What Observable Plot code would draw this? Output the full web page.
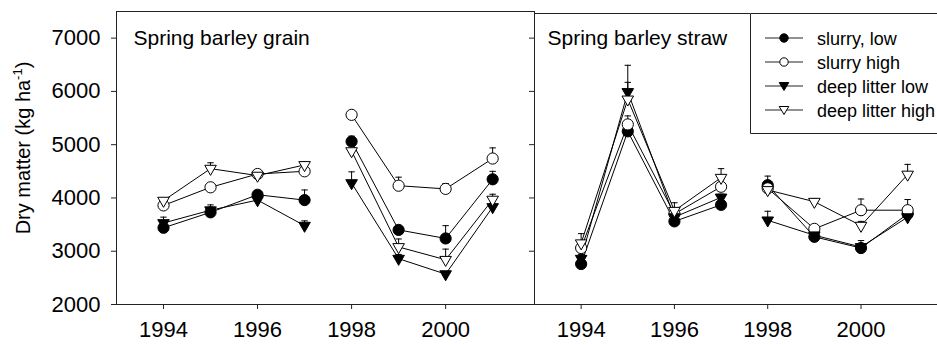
<!DOCTYPE html>
<html><head><meta charset="utf-8">
<script src="https://cdn.jsdelivr.net/npm/d3@7"></script>
<script src="https://cdn.jsdelivr.net/npm/@observablehq/plot@0.6"></script>
<style>
body{margin:0;background:#fff;}
#chart{position:relative;width:937px;height:345px;overflow:hidden;font-family:"Liberation Sans",Arial,sans-serif;}
#chart svg{position:absolute;top:0;}
</style></head><body><div id="chart"></div>
<script>
const years = [1994, 1995, 1996, 1997, 1998, 1999, 2000, 2001];
const seriesNames = ["slurry, low", "slurry high", "deep litter low", "deep litter high"];
const panelTitles = ["Spring barley grain", "Spring barley straw"];
const yTicks = [2000, 3000, 4000, 5000, 6000, 7000];
const xTicks = [1994, 1996, 1998, 2000];
const yLabelMain = "Dry matter (kg ha";
const yLabelSup = "-1";
const yLabelEnd = ")";

// Spring barley grain
const grainSlurryLow      = [3440, 3730, 4060, 3960, 5060, 3400, 3240, 4350];
const grainSlurryLowErr   = [60, 60, 60, 190, 100, 60, 240, 150];
const grainSlurryHigh     = [3860, 4200, 4450, 4500, 5560, 4230, 4170, 4740];
const grainSlurryHighErr  = [40, 40, 60, 60, 0, 160, 100, 200];
const grainDeepLow        = [3530, 3770, 3960, 3480, 4280, 2860, 2570, 3830];
const grainDeepLowErr     = [110, 100, 50, 90, 210, 80, 50, 60];
const grainDeepHigh       = [3950, 4550, 4420, 4620, 4880, 3080, 2840, 3970];
const grainDeepHighErr    = [40, 110, 60, 60, 40, 150, 200, 100];

// Spring barley straw
const strawSlurryLow      = [2760, 5250, 3560, 3870, 4240, 3270, 3060, 3700];
const strawSlurryLowErr   = [50, 60, 50, 40, 170, 50, 140, 60];
const strawSlurryHigh     = [3060, 5380, 3700, 4210, 4180, 3420, 3770, 3770];
const strawSlurryHighErr  = [60, 160, 60, 130, 60, 50, 210, 200];
const strawDeepLow        = [2860, 5990, 3640, 4010, 3580, 3300, 3080, 3640];
const strawDeepLowErr     = [80, 500, 60, 60, 170, 50, 60, 60];
const strawDeepHigh       = [3150, 5850, 3760, 4380, 4150, 3930, 3480, 4440];
const strawDeepHighErr    = [180, 320, 150, 170, 50, 60, 80, 190];

function rows(vals, errs) {
  return seriesNames.flatMap((s, i) => years.map((yr, j) => ({
    series: s, year: yr, value: vals[i][j], err: errs[i][j],
    seg: s + (yr < 1998 ? "-a" : "-b")
  })));
}
const grainData = rows([grainSlurryLow, grainSlurryHigh, grainDeepLow, grainDeepHigh],
                       [grainSlurryLowErr, grainSlurryHighErr, grainDeepLowErr, grainDeepHighErr]);
const strawData = rows([strawSlurryLow, strawSlurryHigh, strawDeepLow, strawDeepHigh],
                       [strawSlurryLowErr, strawSlurryHighErr, strawDeepLowErr, strawDeepHighErr]);

const styles = {
  "slurry, low":      {symbol: "circle",   fill: "black", r: 5.6, rotate: 0},
  "slurry high":      {symbol: "circle",   fill: "white", r: 5.6, rotate: 0},
  "deep litter low":  {symbol: "triangle", fill: "black", r: 4.3, rotate: 180},
  "deep litter high": {symbol: "triangle", fill: "white", r: 4.3, rotate: 180}
};
const capSymbol = {draw(ctx, size) { const w = Math.sqrt(size / Math.PI); ctx.moveTo(-w, 0); ctx.lineTo(w, 0); }};
const FONT = '"Liberation Sans", Arial, sans-serif';

function dataMarks(data) {
  const withErr = data.filter(d => d.err > 0);
  const marks = [
    Plot.line(data, {x: "year", y: "value", z: "seg", stroke: "black", strokeWidth: 1}),
    Plot.ruleX(withErr, {x: "year", y1: "value", y2: d => d.value + d.err, stroke: "black", strokeWidth: 1}),
    Plot.dot(withErr, {x: "year", y: d => d.value + d.err, symbol: capSymbol, r: 3.2, stroke: "black", strokeWidth: 1, fill: "none"})
  ];
  for (const s of seriesNames) {
    const st = styles[s];
    marks.push(Plot.dot(data.filter(d => d.series === s), {
      x: "year", y: "value", symbol: st.symbol, r: st.r, rotate: st.rotate,
      fill: st.fill, stroke: "black", strokeWidth: 1
    }));
  }
  return marks;
}

const chart = document.getElementById("chart");
const H = 345;
const leftDomainX = [1993, 2001.89];
const rightDomainX = [1993, 2001.64];
const leftDomainY = [2000, 7500];
const rightDomainY = [2000, 7462];

const left = Plot.plot({
  width: 535, height: H, marginLeft: 116, marginRight: 1, marginTop: 11, marginBottom: 41,
  style: {background: "transparent", fontSize: "22px", fontFamily: FONT, color: "#000"},
  x: {domain: leftDomainX},
  y: {domain: leftDomainY},
  marks: [
    Plot.frame({stroke: "#222", strokeWidth: 1}),
    Plot.axisY({ticks: yTicks, tickFormat: d => String(d), tickSize: 5, tickPadding: 11, label: null, stroke: "#222", fontSize: 22}),
    Plot.axisX({ticks: xTicks, tickFormat: d => String(d), tickSize: 5, tickPadding: 12, label: null, stroke: "#222", fontSize: 22}),
    Plot.text([panelTitles[0]], {frameAnchor: "top-left", dx: 17, dy: 19, lineAnchor: "top", textAnchor: "start", fontSize: 21, fill: "black"}),
    ...dataMarks(grainData)
  ]
});
left.style.left = "0px";
chart.appendChild(left);

// y axis label with superscript
const lab = d3.select(left).append("text")
  .attr("transform", "translate(30,148) rotate(-90)")
  .attr("text-anchor", "middle")
  .attr("font-size", 20).attr("font-family", FONT).attr("fill", "black");
lab.append("tspan").text(yLabelMain);
lab.append("tspan").attr("font-size", 13).attr("dy", -8).text(yLabelSup);
lab.append("tspan").attr("dy", 8).text(yLabelEnd);

const right = Plot.plot({
  width: 413, height: H, marginLeft: 10, marginRight: 0, marginTop: 13, marginBottom: 41,
  style: {background: "transparent", fontSize: "22px", fontFamily: FONT, color: "#000"},
  x: {domain: rightDomainX},
  y: {domain: rightDomainY},
  marks: [
    Plot.ruleX([rightDomainX[0]], {stroke: "#222"}),
    Plot.ruleY([rightDomainY[0]], {stroke: "#222"}),
    Plot.ruleY([rightDomainY[1]], {stroke: "#222"}),
    Plot.axisY({ticks: yTicks, tickSize: 5, tickFormat: () => "", label: null, stroke: "#222"}),
    Plot.axisX({ticks: xTicks, tickFormat: d => String(d), tickSize: 5, tickPadding: 12, label: null, stroke: "#222", fontSize: 22}),
    Plot.text([panelTitles[1]], {frameAnchor: "top-left", dx: 13, dy: 17, lineAnchor: "top", textAnchor: "start", fontSize: 21, fill: "black"}),
    ...dataMarks(strawData)
  ]
});
right.style.left = "524px";
chart.appendChild(right);

// legend
const lg = d3.select(chart).append("svg").attr("width", 190).attr("height", 122)
  .style("left", "750px").style("top", "13px");
lg.append("rect").attr("x", 0).attr("y", 0).attr("width", 190).attr("height", 122).attr("fill", "white");
lg.append("path").attr("d", "M200,0.5H0.5V120.5H200").attr("fill", "none").attr("stroke", "#222");
seriesNames.forEach((s, i) => {
  const st = styles[s];
  const y = 25 + i * 24;
  const g = lg.append("g");
  g.append("line").attr("x1", 15).attr("x2", 53).attr("y1", y).attr("y2", y).attr("stroke", "#222");
  if (st.symbol === "circle") {
    g.append("circle").attr("cx", 34).attr("cy", y).attr("r", 4.2).attr("fill", st.fill).attr("stroke", "black");
  } else {
    g.append("path").attr("d", `M${34-4.8},${y-3.5}H${34+4.8}L34,${y+4.5}Z`).attr("fill", st.fill).attr("stroke", "black");
  }
  g.append("text").attr("x", 67).attr("y", y + 6.5).attr("font-size", 18).attr("font-family", FONT).attr("fill", "black").text(s);
});
</script></body></html>
